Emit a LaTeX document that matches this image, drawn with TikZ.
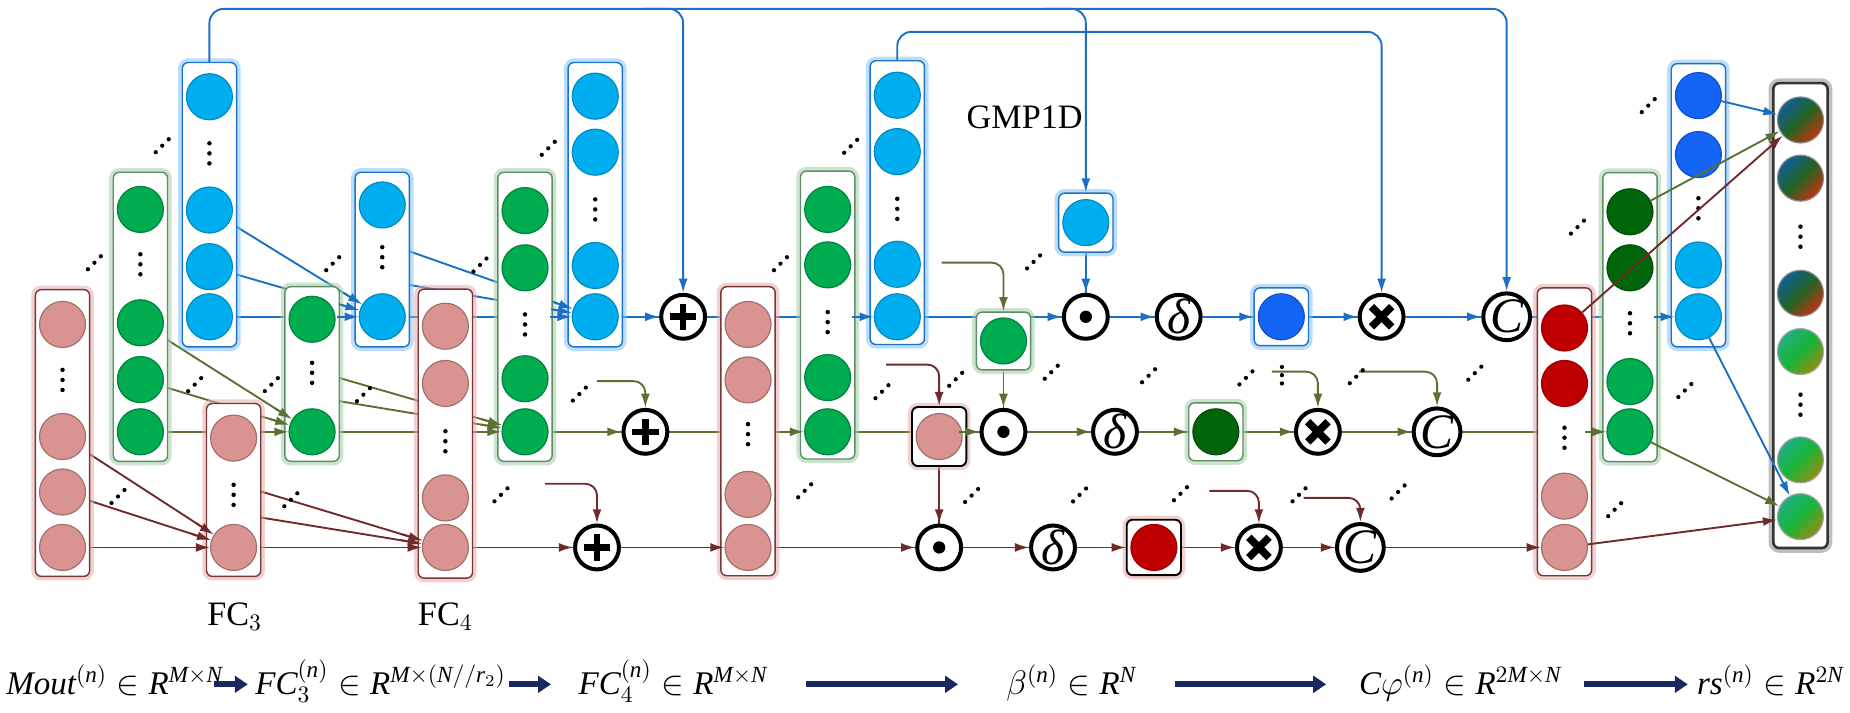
\documentclass[tikz,border=0pt]{standalone}
\usepackage{fontspec}
\setmainfont{Liberation Serif}
\usetikzlibrary{calc,arrows.meta}
\pgfdeclarelayer{bg}
\pgfsetlayers{bg,main}
\definecolor{blueln}{RGB}{28,112,196}
\definecolor{oliveln}{RGB}{92,112,52}
\definecolor{brownln}{RGB}{112,42,42}
\definecolor{lbc}{RGB}{0,174,239}
\definecolor{bbc}{RGB}{20,100,245}
\definecolor{grc}{RGB}{0,172,80}
\definecolor{dgc}{RGB}{0,100,10}
\definecolor{pkc}{RGB}{217,148,146}
\definecolor{drc}{RGB}{192,0,0}
\definecolor{bbord}{RGB}{30,115,200}
\definecolor{gbord}{RGB}{95,140,105}
\definecolor{rbord}{RGB}{120,55,55}
\definecolor{bglow}{RGB}{130,195,245}
\definecolor{gglow}{RGB}{160,205,160}
\definecolor{rglow}{RGB}{230,170,170}
\definecolor{navy}{RGB}{25,40,95}
\definecolor{tealc}{RGB}{15,95,150}
\definecolor{midg}{RGB}{35,100,35}
\definecolor{redc}{RGB}{195,50,15}
\definecolor{ga}{RGB}{30,175,130}
\definecolor{gb}{RGB}{25,180,55}
\definecolor{gcol}{RGB}{150,140,20}
\newcommand\mi[1]{\mathit{#1}}
\newcommand\vd[2]{\fill (#1,#2-8.5) circle (0.95pt) (#1,#2) circle (0.95pt) (#1,#2+8.5) circle (0.95pt);}
\newcommand\dd[2]{\fill (#1-5.5,#2+5.5) circle (0.9pt) (#1,#2) circle (0.9pt) (#1+5.5,#2-5.5) circle (0.9pt);}
\newcommand\conn[3]{\begin{pgfonlayer}{bg}\draw[#1] (#2) -- (#3);\end{pgfonlayer}\draw[#1,arw] ($(#3)!19pt!(#2)$) -- (#3);}
\newcommand\plussym[1]{\draw[line width=2.8pt] ([xshift=-5.6pt]#1.center) -- ([xshift=5.6pt]#1.center) ([yshift=-5.6pt]#1.center) -- ([yshift=5.6pt]#1.center);}
\newcommand\timessym[1]{\draw[line width=3.2pt] ([shift={(-4.3pt,-4.3pt)}]#1.center) -- ([shift={(4.3pt,4.3pt)}]#1.center) ([shift={(-4.3pt,4.3pt)}]#1.center) -- ([shift={(4.3pt,-4.3pt)}]#1.center);}
\newcommand\odotsym[1]{\fill (#1.center) circle (2.6pt);}
\begin{document}
\begin{tikzpicture}[x=0.5pt,y=-0.5pt,
  arw/.style={-{Latex[length=6pt,width=3.8pt]}},
  lnb/.style={line width=0.8pt, draw=blueln},
  lno/.style={line width=0.8pt, draw=oliveln},
  lnr/.style={line width=0.8pt, draw=brownln},
  colbox/.style={rectangle, rounded corners=2.5pt, fill=white, line width=0.6pt, minimum width=23pt, inner sep=0pt},
  bbx/.style={colbox, draw=bbord, preaction={draw=bglow, line width=3.5pt, opacity=0.55}},
  gbx/.style={colbox, draw=gbord, preaction={draw=gglow, line width=3.5pt, opacity=0.55}},
  rbx/.style={colbox, draw=rbord, preaction={draw=rglow, line width=3.5pt, opacity=0.55}},
  kbx/.style={colbox, draw=black, line width=0.8pt, preaction={draw=rglow, line width=3.5pt, opacity=0.55}},
  obx/.style={colbox, draw=black!80, line width=1.1pt, preaction={draw=black!50, line width=4pt, opacity=0.5}},
  neu/.style={circle, minimum size=19.5pt, inner sep=0pt, line width=0.5pt},
  nlb/.style={neu, fill=lbc, draw=lbc!80!black},
  nbb/.style={neu, fill=bbc, draw=bbc!80!black},
  ngr/.style={neu, fill=grc, draw=grc!75!black},
  ndg/.style={neu, fill=dgc, draw=dgc!80!black},
  npk/.style={neu, fill=pkc, draw=pkc!75!black},
  ndr/.style={neu, fill=drc, draw=drc!80!black},
  ntr/.style={neu, draw=black!45, top color=tealc, bottom color=redc, middle color=midg, shading angle=45},
  ngo/.style={neu, draw=black!35, top color=ga, bottom color=gcol, middle color=gb, shading angle=45},
  op/.style={circle, draw=black, fill=white, line width=1.7pt, minimum size=18.6pt, inner sep=0pt},
  opt/.style={op, font=\fontsize{21}{21}\selectfont\itshape},
  lab/.style={font=\fontsize{14.5}{16}\selectfont, inner sep=0pt},
  fm/.style={font=\fontsize{14}{16}\selectfont, inner sep=0pt, anchor=base west},
  fa/.style={draw=navy, line width=2.4pt, -{Triangle[length=5.5pt,width=7pt]}}
]
\useasboundingbox (0,0) rectangle (1568,604);

% ---------- columns ----------
\node[rbx, minimum height=121.5pt] (mA) at (53,367) {};
\node[npk] (mA1) at (53,275) {}; \vd{53}{322}
\node[npk] (mA2) at (53,370) {}; \node[npk] (mA3) at (53,417) {}; \node[npk] (mA4) at (53,464) {};

\node[gbx, minimum height=122.5pt] (gB) at (119,268.5) {};
\node[ngr] (gB1) at (119,177.5) {}; \vd{119}{224}
\node[ngr] (gB2) at (119,273.6) {}; \node[ngr] (gB3) at (119,321.7) {}; \node[ngr] (gB4) at (119,366) {};

\node[bbx, minimum height=120.5pt] (bC) at (177.5,173.5) {};
\node[nlb] (bC1) at (177.5,82) {}; \vd{177.5}{130}
\node[nlb] (bC2) at (177.5,178) {}; \node[nlb] (bC3) at (177.5,226) {}; \node[nlb] (bC4) at (177.5,268.5) {};

\node[rbx, minimum height=73.25pt] (f3) at (198,415.25) {};
\node[npk] (f31) at (198,371.3) {}; \vd{198}{419.4} \node[npk] (f32) at (198,464) {};

\node[gbx, minimum height=74pt] (g2) at (264.5,317) {};
\node[ngr] (g21) at (264.5,270.6) {}; \vd{264.5}{316} \node[ngr] (g22) at (264.5,366) {};

\node[bbx, minimum height=74pt] (b2) at (324,220) {};
\node[nlb] (b21) at (324,173.7) {}; \vd{324}{218} \node[nlb] (b22) at (324,268.5) {};

\node[rbx, minimum height=122.5pt] (f4) at (377.5,367.5) {};
\node[npk] (f41) at (377.5,276.5) {}; \node[npk] (f42) at (377.5,325) {}; \vd{377.5}{374}
\node[npk] (f43) at (377.5,422) {}; \node[npk] (f44) at (377.5,464) {};

\node[gbx, minimum height=122.5pt] (g3) at (445,268.5) {};
\node[ngr] (g31) at (445,178.5) {}; \node[ngr] (g32) at (445,227) {}; \vd{445}{275}
\node[ngr] (g33) at (445,321) {}; \node[ngr] (g34) at (445,366) {};

\node[bbx, minimum height=120.5pt] (b3) at (504.5,173.5) {};
\node[nlb] (b31) at (504.5,81.5) {}; \node[nlb] (b32) at (504.5,129) {}; \vd{504.5}{177.5}
\node[nlb] (b33) at (504.5,225) {}; \node[nlb] (b34) at (504.5,268.5) {};

\node[rbx, minimum height=122.5pt] (r2) at (634,365.5) {};
\node[npk] (r21) at (634,275) {}; \node[npk] (r22) at (634,322) {}; \vd{634}{368}
\node[npk] (r23) at (634,419) {}; \node[npk] (r24) at (634,464) {};

\node[gbx, minimum height=122pt] (g4) at (701.5,267) {};
\node[ngr] (g41) at (701.5,177.5) {}; \node[ngr] (g42) at (701.5,224.5) {}; \vd{701.5}{273}
\node[ngr] (g43) at (701.5,320) {}; \node[ngr] (g44) at (701.5,366) {};

\node[bbx, minimum height=120.25pt] (b4) at (760.5,171.75) {};
\node[nlb] (b41) at (760.5,80.7) {}; \node[nlb] (b42) at (760.5,128.5) {}; \vd{760.5}{177}
\node[nlb] (b43) at (760.5,224) {}; \node[nlb] (b44) at (760.5,268.5) {};

\node[rbx, minimum height=122pt] (r5) at (1326,366) {};
\node[ndr] (r51) at (1326,278) {}; \node[ndr] (r52) at (1326,325) {}; \vd{1326}{371}
\node[npk] (r53) at (1326,420.5) {}; \node[npk] (r54) at (1326,464) {};

\node[gbx, minimum height=122.5pt] (g6) at (1381.5,268.75) {};
\node[ndg] (g61) at (1381.5,179.5) {}; \node[ndg] (g62) at (1381.5,227) {}; \vd{1381.5}{274}
\node[ngr] (g63) at (1381.5,323.4) {}; \node[ngr] (g64) at (1381.5,366) {};

\node[bbx, minimum height=120pt] (b7) at (1439.5,174) {};
\node[nbb] (b71) at (1439.5,81) {}; \node[nbb] (b72) at (1439.5,131) {}; \vd{1439.5}{176.5}
\node[nlb] (b73) at (1439.5,224.6) {}; \node[nlb] (b74) at (1439.5,268.5) {};

\node[obx, minimum height=197pt] (out) at (1526,267.5) {};
\node[ntr] (out1) at (1526,101.7) {}; \node[ntr] (out2) at (1526,151) {}; \vd{1526}{200.6}
\node[ntr] (out3) at (1526,248.6) {}; \node[ngo] (out4) at (1526,298) {}; \vd{1526}{343}
\node[ngo] (out5) at (1526,389.8) {}; \node[ngo] (out6) at (1526,437.9) {};

% ---------- single boxes ----------
\node[gbx, minimum height=24.5pt] (gbox) at (850.5,289) {}; \node[ngr] (gboxc) at (850.5,289) {};
\node[kbx, minimum height=25pt] (rbox) at (796,370) {}; \node[npk] (rboxc) at (796,370) {};
\node[bbx, minimum height=25pt] (gmp) at (920.3,188.7) {}; \node[nlb] (gmpc) at (920.3,188.7) {};
\node[bbx, minimum height=24.5pt] (bsq) at (1086,268.5) {}; \node[nbb] (bsqc) at (1086,268.5) {};
\node[gbx, minimum height=24.5pt] (dgsq) at (1030.5,366) {}; \node[ndg] (dgsqc) at (1030.5,366) {};
\node[kbx, minimum height=23.5pt] (rsq) at (978,464) {}; \node[ndr] (rsqc) at (978,464) {};

% ---------- operators ----------
\node[op] (pT) at (579,268.5) {}; \plussym{pT}
\node[op] (pM) at (547,366) {}; \plussym{pM}
\node[op] (pB) at (506,464) {}; \plussym{pB}
\node[op] (dT) at (920.3,268.5) {}; \odotsym{dT}
\node[op] (dM) at (850.5,366) {}; \odotsym{dM}
\node[op] (dB) at (796,464) {}; \odotsym{dB}
\node[opt] (sT) at (999,268.5) {δ};
\node[opt] (sM) at (945,366) {δ};
\node[opt] (sB) at (892.5,464) {δ};
\node[op] (xT) at (1171,268.5) {}; \timessym{xT}
\node[op] (xM) at (1117,366) {}; \timessym{xM}
\node[op] (xB) at (1067,464) {}; \timessym{xB}
\node[opt] (cT) at (1277,268.5) {C};
\node[opt] (cM) at (1218,366) {C};
\node[opt] (cB) at (1153,464) {C};

% ---------- labels ----------
\node[lab, anchor=base] (lf3) at (199,530) {FC$_3$};
\node[lab, anchor=base] (lf4) at (377.5,530) {FC$_4$};
\node[lab, anchor=base east] (lgmp) at (918,108.8) {GMP1D};

% ---------- free coordinates ----------
\coordinate (b2s1) at (347,213); \coordinate (b2s2) at (347,241.5);
\coordinate (g2s1) at (287.5,320.3); \coordinate (g2s2) at (287.5,340);
\coordinate (f3s1) at (221,416.5); \coordinate (f3s2) at (221,438.6);
\coordinate (hpM) at (506,323); \coordinate (hpB) at (462,410);
\coordinate (hg) at (798,222.6); \coordinate (hr) at (751,309);
\coordinate (hxM) at (1078,315); \coordinate (hcM) at (1152,315);
\coordinate (hxB) at (1025,416); \coordinate (hcB) at (1105,422);
\coordinate (oE) at (1277,7.5); \coordinate (oP) at (545,7.5); \coordinate (oG) at (885,7.5);
\coordinate (iE) at (1171,27);

% ---------- top row (blue) ----------
\conn{lnb}{bC2}{b22} \conn{lnb}{bC3}{b22} \conn{lnb}{bC4}{b22}
\conn{lnb}{b2s1}{b34} \conn{lnb}{b2s2}{b34} \conn{lnb}{b22}{b34}
\conn{lnb}{b34}{pT} \conn{lnb}{pT}{b44} \conn{lnb}{b44}{dT}
\conn{lnb}{dT}{sT} \conn{lnb}{sT}{bsq} \conn{lnb}{bsq}{xT} \conn{lnb}{xT}{cT} \conn{lnb}{cT}{b74}
\conn{lnb}{gmp}{dT}
\draw[lnb,arw,rounded corners=6pt] (bC.north) |- (oE) -- (cT);
\draw[lnb,arw,rounded corners=6pt] (oP) -| (pT);
\draw[lnb,arw,rounded corners=6pt] (oG) -| (gmp);
\draw[lnb,arw,rounded corners=6pt] (b4.north) |- (iE) -- (xT);

% ---------- middle row (olive) ----------
\conn{lno}{gB2}{g22} \conn{lno}{gB3}{g22} \conn{lno}{gB4}{g22}
\conn{lno}{g2s1}{g34} \conn{lno}{g2s2}{g34} \conn{lno}{g22}{g34}
\conn{lno}{g34}{pM} \conn{lno}{pM}{g44} \conn{lno}{g44}{dM}
\conn{lno}{dM}{sM} \conn{lno}{sM}{dgsq} \conn{lno}{dgsq}{xM} \conn{lno}{xM}{cM} \conn{lno}{cM}{g64}
\conn{lno}{gbox}{dM}
\draw[lno,arw,rounded corners=5pt] (hpM) -| (pM);
\draw[lno,arw,rounded corners=5pt] (hg) -| (gbox);
\draw[lno,arw,rounded corners=5pt] (hxM) -| (xM);
\draw[lno,arw,rounded corners=5pt] (hcM) -| (cM);

% ---------- bottom row (brown) ----------
\conn{lnr}{mA2}{f32} \conn{lnr}{mA3}{f32} \conn{lnr}{mA4}{f32}
\conn{lnr}{f3s1}{f44} \conn{lnr}{f3s2}{f44} \conn{lnr}{f32}{f44}
\conn{lnr}{f44}{pB} \conn{lnr}{pB}{r24} \conn{lnr}{r24}{dB}
\conn{lnr}{dB}{sB} \conn{lnr}{sB}{rsq} \conn{lnr}{rsq}{xB} \conn{lnr}{xB}{cB} \conn{lnr}{cB}{r54}
\conn{lnr}{rbox}{dB}
\draw[lnr,arw,rounded corners=5pt] (hpB) -| (pB);
\draw[lnr,arw,rounded corners=5pt] (hr) -| (rbox);
\draw[lnr,arw,rounded corners=5pt] (hxB) -| (xB);
\draw[lnr,arw,rounded corners=5pt] (hcB) -| (cB);

% ---------- output ----------
\draw[lnb,arw] (b71) -- (out1); \draw[lno,arw] (g61) -- (out1); \draw[lnr,arw] (r51) -- (out1);
\draw[lnb,arw] (b74) -- (out6); \draw[lno,arw] (g64) -- (out6); \draw[lnr,arw] (r54) -- (out6);

% ---------- diagonal dots ----------
\dd{80}{222.7} \dd{137.5}{123.5} \dd{165}{326} \dd{230}{326} \dd{282}{223.5} \dd{308}{334.5}
\dd{100}{420.8} \dd{246.5}{423.6} \dd{406.8}{224.6} \dd{464.7}{125.7} \dd{491}{334} \dd{424.6}{419.4}
\dd{661.5}{223.5} \dd{721}{124} \dd{682}{416} \dd{747.5}{332} \dd{810}{321.5} \dd{876}{222}
\dd{891}{315.5} \dd{973.5}{318.5} \dd{823.5}{420} \dd{915}{419.5} \dd{1000.5}{418.5}
\dd{1056}{320.3} \dd{1149.5}{319.3} \dd{1250}{316.3} \dd{1101}{419.4} \dd{1185}{417}
\dd{1337}{192.5} \dd{1397}{89.5} \dd{1428}{331} \dd{1368.5}{432}
\fill (1086.5,311) circle (0.9pt) (1086.5,318) circle (0.9pt) (1086.5,325) circle (0.9pt);

% ---------- formula row ----------
\node[fm] (e1) at (5,589) {$\mi{Mout}^{(\mi{n})}\in\mi{R}^{\mi{M}\times\mi{N}}$};
\node[fm] (e2) at (216,589) {$\mi{FC}_3^{(\mi{n})}\in\mi{R}^{\mi{M}\times(\mi{N}//\mi{r}_2)}$};
\node[fm] (e3) at (490,589) {$\mi{FC}_4^{(\mi{n})}\in\mi{R}^{\mi{M}\times\mi{N}}$};
\node[fm] (e4) at (852.6,589) {$\beta^{(\mi{n})}\in\mi{R}^{\mi{N}}$};
\node[fm] (e5) at (1151.5,589) {$\mi{C}\varphi^{(\mi{n})}\in\mi{R}^{2\mi{M}\times\mi{N}}$};
\node[fm] (e6) at (1438,589) {$\mi{rs}^{(\mi{n})}\in\mi{R}^{2\mi{N}}$};
\coordinate (a1s) at (181,580); \coordinate (a1e) at (210,580);
\coordinate (a2s) at (431,580); \coordinate (a2e) at (467,580);
\coordinate (a3s) at (683,580); \coordinate (a3e) at (812,580);
\coordinate (a4s) at (996,580); \coordinate (a4e) at (1124,580);
\coordinate (a5s) at (1342.5,580); \coordinate (a5e) at (1430.5,580);
\draw[fa] (a1s) -- (a1e); \draw[fa] (a2s) -- (a2e); \draw[fa] (a3s) -- (a3e);
\draw[fa] (a4s) -- (a4e); \draw[fa] (a5s) -- (a5e);
\end{tikzpicture}
\end{document}
